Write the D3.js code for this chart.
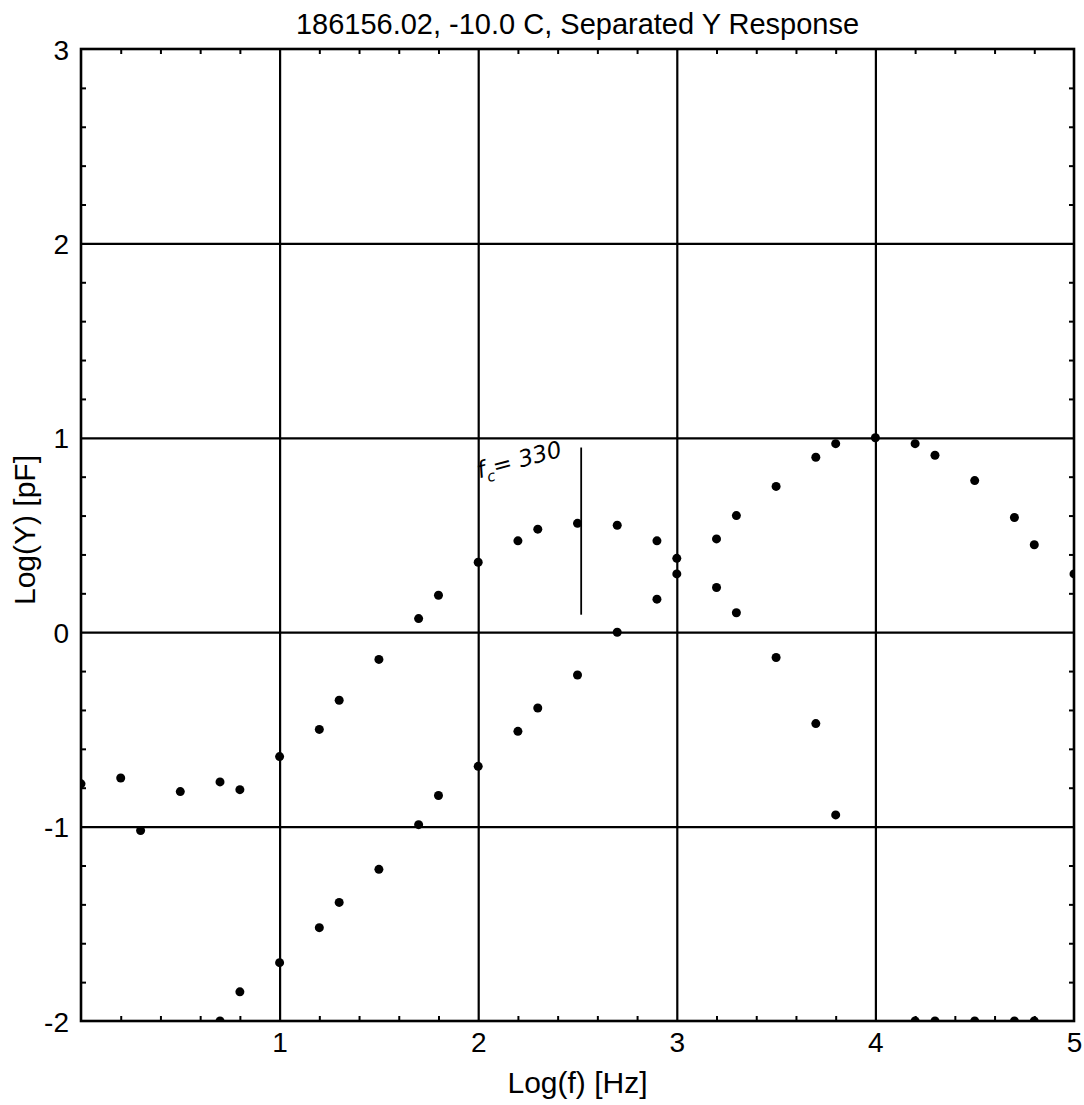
<!DOCTYPE html>
<html>
<head>
<meta charset="utf-8">
<script src="https://cdn.jsdelivr.net/npm/d3@7"></script>
<style>
  body { margin: 0; background: #fff; }
  svg { display: block; font-family: "Liberation Sans", Arial, sans-serif; }
  .grid line { stroke: #000; stroke-width: 2.2; }
  .grid path { display: none; }
  .minor line { stroke: #000; stroke-width: 2; }
  .minor path { display: none; }
  .labels path, .labels line { display: none; }
  .labels text { font-size: 28px; fill: #000; font-family: "Liberation Sans", Arial, sans-serif; }
</style>
</head>
<body>
<script>
// series 1: loss-like peak, log(f) vs log(Y)
const logF1 = [0, 0.2, 0.3, 0.5, 0.7, 0.8, 1.0, 1.2, 1.3, 1.5, 1.7, 1.8, 2.0, 2.2, 2.3, 2.5, 2.7, 2.9, 3.0, 3.2, 3.3, 3.5, 3.7, 3.8, 4.2, 4.3, 4.5, 4.7, 4.8];
const logY1 = [-0.78, -0.75, -1.02, -0.82, -0.77, -0.81, -0.64, -0.50, -0.35, -0.14, 0.07, 0.19, 0.36, 0.47, 0.53, 0.56, 0.55, 0.47, 0.38, 0.23, 0.10, -0.13, -0.47, -0.94, -2.0, -2.0, -2.0, -2.0, -2.0];

// series 2
const logF2 = [0.7, 0.8, 1.0, 1.2, 1.3, 1.5, 1.7, 1.8, 2.0, 2.2, 2.3, 2.5, 2.7, 2.9, 3.0, 3.2, 3.3, 3.5, 3.7, 3.8, 4.0, 4.2, 4.3, 4.5, 4.7, 4.8, 5.0];
const logY2 = [-2.0, -1.85, -1.70, -1.52, -1.39, -1.22, -0.99, -0.84, -0.69, -0.51, -0.39, -0.22, 0.0, 0.17, 0.30, 0.48, 0.60, 0.75, 0.90, 0.97, 1.0, 0.97, 0.91, 0.78, 0.59, 0.45, 0.30];

const xTicks = [1, 2, 3, 4, 5];
const yTicks = [-2, -1, 0, 1, 2, 3];

// hand-drawn marker: f_c = 330 Hz
const fc = 330;
const fcSpan = [0.09, 0.95];

const width = 1084, height = 1105;
const margin = {top: 49, right: 10, bottom: 84, left: 81};
const innerW = 1074 - margin.left;
const innerH = 1021 - margin.top;

const x = d3.scaleLinear().domain([0, 5]).range([0, innerW]);
const y = d3.scaleLinear().domain([-2, 3]).range([innerH, 0]);

const minorX = d3.range(0, 5.001, 0.2).filter(v => Math.abs(v - Math.round(v)) > 1e-6);
const minorY = d3.range(-2, 3.001, 0.2).filter(v => Math.abs(v - Math.round(v)) > 1e-6);

const $svg = d3.select('body').append('svg').attr('width', width).attr('height', height);
const $g = $svg.append('g').attr('transform', `translate(${margin.left}, ${margin.top})`);

$svg.append('defs').append('clipPath').attr('id', 'plot-clip')
  .append('rect').attr('width', innerW).attr('height', innerH);

// grid lines at whole decades
$g.append('g').attr('class', 'grid')
  .attr('transform', `translate(0, ${innerH})`)
  .call(d3.axisBottom(x).tickValues(xTicks.slice(0, -1)).tickSize(-innerH).tickFormat(''));
$g.append('g').attr('class', 'grid')
  .call(d3.axisLeft(y).tickValues(yTicks.slice(1, -1)).tickSize(-innerW).tickFormat(''));

// minor ticks, pointing inward on all four sides
$g.append('g').attr('class', 'minor')
  .attr('transform', `translate(0, ${innerH})`)
  .call(d3.axisBottom(x).tickValues(minorX).tickSize(-5).tickFormat(''));
$g.append('g').attr('class', 'minor')
  .call(d3.axisTop(x).tickValues(minorX).tickSize(-5).tickFormat(''));
$g.append('g').attr('class', 'minor')
  .call(d3.axisLeft(y).tickValues(minorY).tickSize(-5).tickFormat(''));
$g.append('g').attr('class', 'minor')
  .attr('transform', `translate(${innerW}, 0)`)
  .call(d3.axisRight(y).tickValues(minorY).tickSize(-5).tickFormat(''));

// frame
$g.append('rect')
  .attr('width', innerW).attr('height', innerH)
  .attr('fill', 'none').attr('stroke', '#000').attr('stroke-width', 2.6);

// tick labels (plain hyphen minus, as in the original)
const fmt = d => String(d);
$g.append('g').attr('class', 'labels')
  .attr('transform', `translate(0, ${innerH})`)
  .call(d3.axisBottom(x).tickValues(xTicks).tickSize(0).tickPadding(11).tickFormat(fmt));
$g.append('g').attr('class', 'labels')
  .call(d3.axisLeft(y).tickValues(yTicks).tickSize(0).tickPadding(12).tickFormat(fmt))
  .selectAll('text').attr('dy', '0.36em');

// data points
const $pts = $g.append('g').attr('clip-path', 'url(#plot-clip)');
const pts = logF1.map((f, i) => ({f, v: logY1[i]}))
  .concat(logF2.map((f, i) => ({f, v: logY2[i]})));
$pts.selectAll('circle').data(pts).enter()
  .append('circle')
  .attr('cx', d => x(d.f))
  .attr('cy', d => y(d.v))
  .attr('r', 4.5)
  .attr('fill', '#000');

// hand annotation
const fcX = x(Math.log10(fc));
$g.append('line')
  .attr('x1', fcX).attr('x2', fcX)
  .attr('y1', y(fcSpan[1])).attr('y2', y(fcSpan[0]))
  .attr('stroke', '#000').attr('stroke-width', 1.8);

const $note = $g.append('text')
  .attr('transform', `translate(${x(2.0) + 1}, ${y(0.79)}) rotate(-15)`)
  .attr('font-family', '"DejaVu Sans", sans-serif')
  .attr('font-style', 'italic')
  .attr('font-size', 23)
  .attr('fill', '#000');
$note.append('tspan').text('f');
$note.append('tspan').attr('font-size', 15).attr('dy', 6).text('c');
$note.append('tspan').attr('dy', -6).text('= 330');

// titles
$svg.append('text')
  .attr('x', margin.left + innerW / 2).attr('y', 34)
  .attr('text-anchor', 'middle').attr('font-size', 29)
  .text('186156.02, -10.0 C, Separated Y Response');

$svg.append('text')
  .attr('x', margin.left + innerW / 2).attr('y', 1093)
  .attr('text-anchor', 'middle').attr('font-size', 30)
  .text('Log(f) [Hz]');

$svg.append('text')
  .attr('transform', `translate(35, 530) rotate(-90)`)
  .attr('text-anchor', 'middle').attr('font-size', 30)
  .text('Log(Y) [pF]');
</script>
</body>
</html>
